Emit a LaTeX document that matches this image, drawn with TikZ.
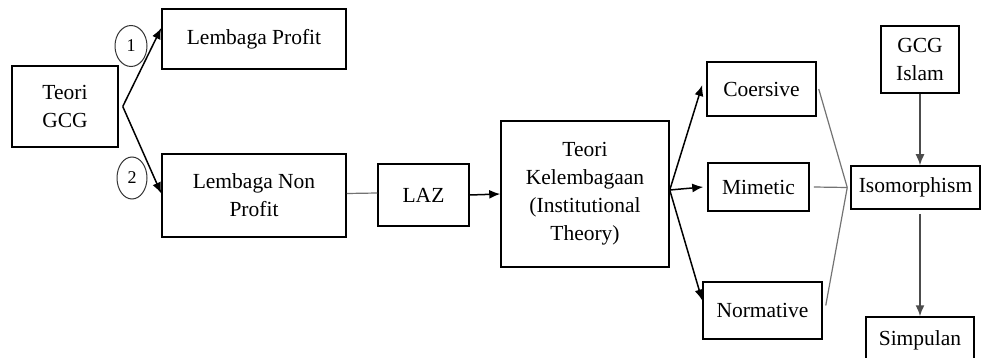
\documentclass[tikz,border=0pt]{standalone}
\usepackage{fontspec}
\setmainfont{Liberation Serif}
\usetikzlibrary{arrows.meta,shapes.geometric}

\begin{document}
\begin{tikzpicture}[x=1pt,y=-1pt,
  box/.style={draw=black,line width=1.5pt,align=center,inner sep=0pt,font=\fontsize{21.5}{28}\selectfont},
  num/.style={draw=black!80,ellipse,line width=1pt,inner sep=0pt,font=\fontsize{18}{18}\selectfont},
  arr/.style={-{Latex[length=11pt,width=9pt]},line width=1.5pt},
  thinline/.style={draw=black!55,line width=1.2pt}]
\path[use as bounding box,clip] (0,0) rectangle (982,358);

\node[box,minimum width=106pt,minimum height=81pt] (gcg) at (65,106.5) {Teori\\GCG};
\node[box,minimum width=184pt,minimum height=60pt] (profit) at (254,39) {Lembaga Profit};
\node[box,minimum width=184pt,minimum height=83pt] (nonprofit) at (254,195.5) {Lembaga Non\\Profit};
\node[box,minimum width=91pt,minimum height=62pt] (laz) at (423.5,195) {LAZ};
\node[box,minimum width=168pt,minimum height=146pt] (teori) at (585,194) {Teori\\Kelembagaan\\(Institutional\\Theory)};
\node[box,minimum width=109pt,minimum height=54pt] (coersive) at (761.5,89) {Coersive};
\node[box,minimum width=101pt,minimum height=48pt] (mimetic) at (758.5,187) {Mimetic};
\node[box,minimum width=119pt,minimum height=57pt] (normative) at (762.5,310.5) {Normative};
\node[box,minimum width=78pt,minimum height=67pt] (islam) at (920,59.5) {GCG\\Islam};
\node[box,minimum width=129pt,minimum height=43pt] (iso) at (915.5,187.5) {Isomorphism};
\node[box,minimum width=108pt,minimum height=46pt] (simpulan) at (920,340) {Simpulan};

\node[num,minimum width=32pt,minimum height=41pt] (one) at (131,46) {1};
\node[num,minimum width=30pt,minimum height=42pt] (two) at (132,178) {2};

% cabang dari teori GCG
\coordinate (fork) at ([xshift=4pt]gcg.east);
\draw[arr] (fork) -- ([yshift=11pt]profit.west);
\draw[arr] (fork) -- ([yshift=2pt]nonprofit.west);

\draw[thinline] ([yshift=2pt]nonprofit.east) -- ([yshift=2pt]laz.west);
\draw[arr] (laz.east) -- (teori.west);

% cabang dari teori kelembagaan
\coordinate (split) at ([yshift=4pt]teori.east);
\draw[arr] (split) -- ([xshift=-4pt,yshift=4pt]coersive.west);
\draw[arr] (split) -- ([xshift=-4pt]mimetic.west);
\draw[arr] (split) -- ([yshift=10pt]normative.west);

\draw[thinline] ([xshift=2pt]coersive.east) -- ([xshift=-3pt]iso.west);
\draw[thinline] ([xshift=4pt]mimetic.east) -- ([xshift=-3pt]iso.west);
\draw[thinline] ([xshift=3pt,yshift=5pt]normative.east) -- ([xshift=-3pt]iso.west);

\draw[arr,draw=black!70] (islam.south) -- (islam.south |- iso.north);
\draw[arr,draw=black!70] ([yshift=-4pt]islam.south |- iso.south) -- (simpulan.north);
\end{tikzpicture}
\end{document}
